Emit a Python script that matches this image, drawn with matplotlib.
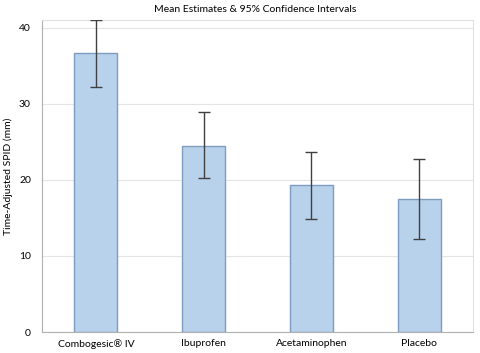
import matplotlib
matplotlib.use("Agg")
import matplotlib.pyplot as plt
import numpy as np

plt.rcParams['font.family'] = ['Lato', 'DejaVu Sans']

groups = ["Combogesic\u00ae IV", "Ibuprofen", "Acetaminophen", "Placebo"]
means = [36.7, 24.5, 19.3, 17.5]
ci_low = [32.3, 20.3, 14.9, 12.2]
ci_high = [41.0, 28.9, 23.7, 22.8]

fig = plt.figure(figsize=(4.8, 3.53), dpi=100)
ax = fig.add_axes([42/480, 21/353, 431/480, 312/353])

x = np.arange(len(groups))
err = [np.array(means) - np.array(ci_low), np.array(ci_high) - np.array(means)]
ax.bar(x, means, width=0.4, color="#b9d2ec", edgecolor="#7d9cbf", linewidth=1.0, zorder=2)
ax.errorbar(x, means, yerr=err, fmt="none", ecolor="#404040", elinewidth=1.0,
            capsize=4, capthick=1.0, zorder=3)

ax.set_xlim(-0.5, len(groups) - 0.5)
ax.set_ylim(0, 41.05)
ax.set_yticks([0, 10, 20, 30, 40])
ax.set_xticks(x)
ax.set_xticklabels(groups, fontsize=7.5)
ax.tick_params(axis="y", labelsize=7.5, length=0, pad=8)
ax.tick_params(axis="x", length=0, pad=5)
ax.grid(axis="y", color="#e4e4e4", linewidth=0.8, zorder=0)
for s in ["top", "right"]:
    ax.spines[s].set_color("#e0e0e0")
for s in ["left", "bottom"]:
    ax.spines[s].set_color("#b0b0b0")
ax.set_ylabel("Time-Adjusted SPID (mm)", fontsize=7.5, labelpad=4)
fig.text(0.5 + 15/480, 1 - 9/353, "Mean Estimates & 95% Confidence Intervals",
         ha="center", va="center", fontsize=7.5)

fig.savefig("out.png", dpi=100)
